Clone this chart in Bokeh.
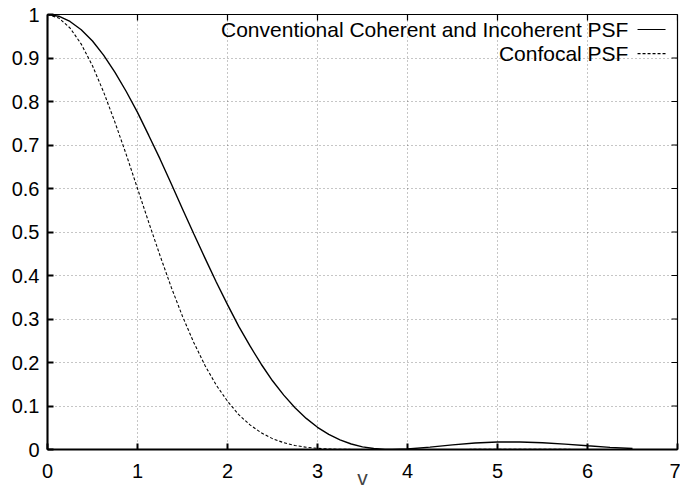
import math
from bokeh.plotting import figure
from bokeh.models import FixedTicker, Label, Arrow, Range1d
from bokeh.embed import file_html
from bokeh.resources import INLINE

# ---- data ----
v = [0.0, 0.125, 0.25, 0.375, 0.5, 0.625, 0.75, 0.875, 1.0, 1.125, 1.25,
     1.375, 1.5, 1.625, 1.75, 1.875, 2.0, 2.125, 2.25, 2.375, 2.5, 2.625,
     2.75, 2.875, 3.0, 3.125, 3.25, 3.375, 3.5, 3.625, 3.75, 3.83, 4.0,
     4.25, 4.5, 4.75, 5.0, 5.25, 5.5, 5.75, 6.0, 6.25, 6.5]
conventional = [1.0, 0.996, 0.984, 0.965, 0.939, 0.906, 0.867, 0.823, 0.775,
                0.722, 0.668, 0.611, 0.553, 0.496, 0.440, 0.385, 0.333, 0.283,
                0.238, 0.196, 0.158, 0.125, 0.096, 0.0715, 0.051, 0.0347,
                0.022, 0.0126, 0.006, 0.0022, 0.0003, 0.0, 0.001,
                0.0054, 0.0106, 0.0148, 0.0172, 0.0174, 0.0154, 0.0123, 0.0085,
                0.0049, 0.0022]
confocal = [1.0, 0.992, 0.969, 0.932, 0.882, 0.821, 0.752, 0.678, 0.600,
            0.522, 0.446, 0.373, 0.306, 0.246, 0.193, 0.148, 0.111, 0.080,
            0.0565, 0.0384, 0.025, 0.0156, 0.0092, 0.0051, 0.0026, 0.0012,
            0.0005, 0.00016, 0.00004, 0.0, 0.0, 0.0, 0.0,
            0.0, 0.0001, 0.0002, 0.0003, 0.0003, 0.0002, 0.0002, 0.0001,
            0.0, 0.0]
x_ticks = [0, 1, 2, 3, 4, 5, 6, 7]
x_tick_labels = ["0", "1", "2", "3", "4", "5", "6", "7"]
y_ticks = [0.0, 0.1, 0.2, 0.3, 0.4, 0.5, 0.6, 0.7, 0.8, 0.9, 1.0]
y_tick_labels = ["0", "0.1", "0.2", "0.3", "0.4", "0.5", "0.6", "0.7", "0.8",
                 "0.9", "1"]
legend_labels = ["Conventional Coherent and Incoherent PSF", "Confocal PSF"]
x_label = "v"

FONT = "Liberation Sans"
FS_TICK = "20px"
FS_LEG = "21px"

X0, X1 = x_ticks[0], x_ticks[-1]
Y0, Y1 = y_ticks[0], y_ticks[-1]

p = figure(frame_width=630, frame_height=435, output_backend="svg",
           toolbar_location=None, x_range=Range1d(X0, X1),
           y_range=Range1d(Y0, Y1),
           min_border_left=47, min_border_right=3, min_border_top=14,
           min_border_bottom=10, x_axis_label=x_label)
p.background_fill_color = "white"
p.border_fill_color = "white"
p.outline_line_color = "black"
p.outline_line_width = 1.2

# axes
for ax in (p.xaxis[0], p.yaxis[0]):
    ax.axis_line_width = 2
    ax.axis_line_color = "black"
    ax.major_tick_in = 6
    ax.major_tick_out = 0
    ax.major_tick_line_width = 2
    ax.minor_tick_line_color = None
    ax.major_label_text_font = FONT
    ax.major_label_text_font_size = FS_TICK
    ax.major_label_text_color = "black"

p.xaxis[0].ticker = FixedTicker(ticks=x_ticks)
p.xaxis[0].major_label_overrides = {t: s for t, s in zip(x_ticks, x_tick_labels)}
p.xaxis[0].major_label_standoff = 14
p.xaxis[0].axis_label_text_font = FONT
p.xaxis[0].axis_label_text_font_size = FS_LEG
p.xaxis[0].axis_label_text_font_style = "normal"
p.xaxis[0].axis_label_standoff = -15
p.yaxis[0].ticker = FixedTicker(ticks=y_ticks)
p.yaxis[0].major_label_overrides = {t: s for t, s in zip(y_ticks, y_tick_labels)}
p.yaxis[0].major_label_standoff = 8

# mirrored ticks on top and right (gnuplot style)
p.ray(x=x_ticks, y=[Y1] * len(x_ticks), angle=-math.pi / 2, length=6,
      length_units="screen", line_color="black", line_width=1.2)
p.ray(x=[X1] * len(y_ticks), y=y_ticks, angle=math.pi, length=6,
      length_units="screen", line_color="black", line_width=1.2)

# grid
for g in (p.xgrid[0], p.ygrid[0]):
    g.grid_line_color = "black"
    g.grid_line_alpha = 0.45
    g.grid_line_dash = "1 3"
    g.grid_line_width = 1
p.xgrid[0].ticker = FixedTicker(ticks=x_ticks)
p.ygrid[0].ticker = FixedTicker(ticks=y_ticks)

# curves
p.line(v, conventional, line_color="black", line_width=1.4)
p.line(v, confocal, line_color="black", line_width=1.1, line_dash="3 2")

# legend (gnuplot style: text then sample)
LX_TEXT = 6.455
LX0, LX1 = 6.556, 6.867
LY = [0.9655, 0.910]
for lbl, ly, dash in zip(legend_labels, LY, ["solid", "3 2"]):
    p.add_layout(Label(x=LX_TEXT, y=ly, text=lbl, text_align="right",
                       text_baseline="middle", text_font=FONT,
                       text_font_size=FS_LEG, text_color="black"))
    p.add_layout(Arrow(x_start=LX0, y_start=ly, x_end=LX1, y_end=ly,
                       start=None, end=None, line_color="black",
                       line_width=1.2, line_dash=dash))

open("out.html", "w").write(file_html(p, INLINE))
